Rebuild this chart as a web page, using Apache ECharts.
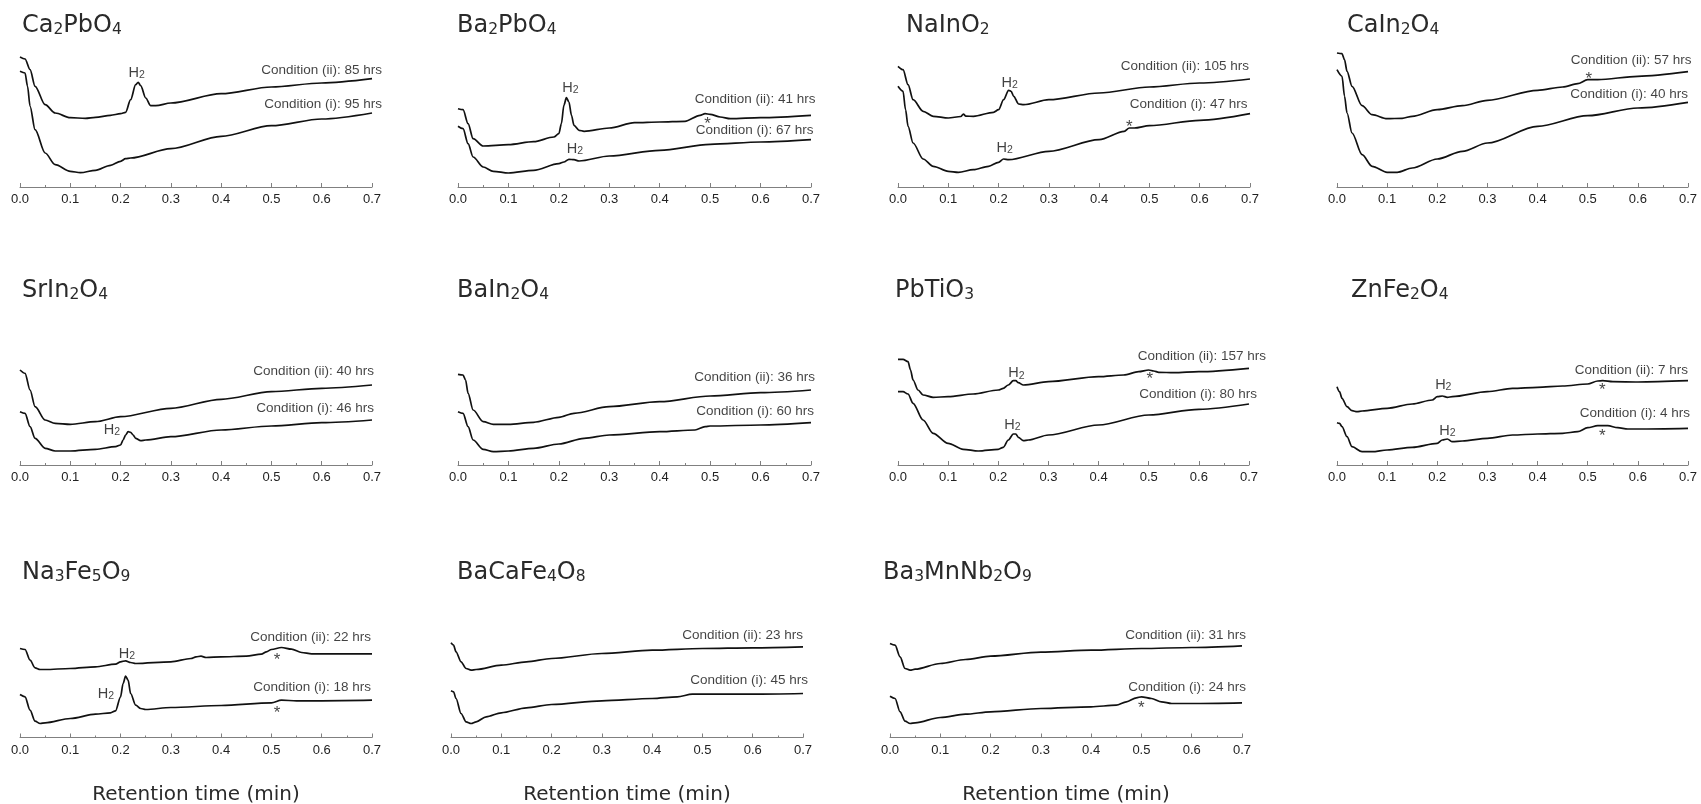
<!DOCTYPE html>
<html><head><meta charset="utf-8">
<script src="https://cdn.jsdelivr.net/npm/echarts@6/dist/echarts.min.js"></script>
<style>html,body{margin:0;padding:0;background:#fff}#c{width:1701px;height:804px}</style>
</head><body><div id="c"></div><script>
// ---------- DATA ----------
const xTickLabels = ['0.0','0.1','0.2','0.3','0.4','0.5','0.6','0.7'];
const compounds = ['Ca2PbO4','Ba2PbO4','NaInO2','CaIn2O4','SrIn2O4','BaIn2O4','PbTiO3','ZnFe2O4','Na3Fe5O9','BaCaFe4O8','Ba3MnNb2O9'];
const hoursII = [85,41,105,57,40,36,157,7,22,23,31];
const hoursI  = [95,67,47,40,46,60,80,4,18,45,24];

// [retention time (min), detector signal (arb.)]
const ca2pbo4_ii = [[0,130],[0.01,128],[0.02,117.3],[0.03,100.7],[0.05,82.3],[0.07,74],[0.1,69.3],[0.13,68.7],[0.15,69.7],[0.18,71.7],[0.2,73.3],[0.21,74.7],[0.22,87.3],[0.23,102.3],[0.235,104.7],[0.24,101.3],[0.25,89],[0.26,81.3],[0.27,81.3],[0.3,84],[0.4,93.3],[0.5,100],[0.6,104],[0.7,108.3]];
const ca2pbo4_i  = [[0,115.7],[0.01,114],[0.015,100.7],[0.02,80.7],[0.03,57.3],[0.05,34],[0.07,22.3],[0.1,15.7],[0.12,14.3],[0.15,16.7],[0.18,21.7],[0.2,25.7],[0.21,28.3],[0.22,29],[0.3,38.3],[0.4,50.7],[0.5,61.3],[0.6,68],[0.7,74]];
const ba2pbo4_ii = [[0,78.3],[0.01,77.3],[0.02,63.3],[0.03,48.3],[0.05,41],[0.1,42.3],[0.15,45.3],[0.19,50],[0.2,53.3],[0.205,63.3],[0.21,81.7],[0.215,89.3],[0.22,85],[0.225,71.7],[0.23,61.7],[0.24,56.7],[0.25,55.7],[0.3,59],[0.35,64.3],[0.4,65],[0.45,65.7],[0.48,71.7],[0.49,73.3],[0.5,72.7],[0.52,70],[0.54,68.3],[0.6,69.3],[0.7,71.7]];
const ba2pbo4_i  = [[0,60.7],[0.01,58.3],[0.02,43.3],[0.03,30],[0.05,20],[0.07,15.7],[0.1,14],[0.15,16.7],[0.2,23.3],[0.21,25],[0.22,27.7],[0.23,27.3],[0.24,26],[0.3,31],[0.4,36.7],[0.5,42.7],[0.6,45],[0.7,47.3]];
const nainO2_ii  = [[0,120.7],[0.01,117.3],[0.02,102.3],[0.03,87.3],[0.05,75.7],[0.07,70.7],[0.1,69],[0.125,70.5],[0.13,73],[0.135,70.8],[0.15,70.7],[0.19,74.7],[0.2,77.3],[0.21,87.3],[0.22,96.7],[0.225,95.7],[0.23,90.7],[0.24,83],[0.25,82.3],[0.3,87.3],[0.4,94],[0.5,100],[0.6,104],[0.7,108]];
const nainO2_i   = [[0,100.7],[0.01,95.7],[0.015,77.3],[0.02,60.7],[0.03,44],[0.05,28],[0.07,20.7],[0.1,15.7],[0.12,14.7],[0.15,17.3],[0.18,20.7],[0.2,24.7],[0.21,28],[0.22,27.3],[0.3,35.7],[0.4,47.3],[0.45,55.7],[0.46,59],[0.47,59],[0.5,61.3],[0.6,66.7],[0.7,73.3]];
const cain2o4_ii = [[0,134],[0.01,133.3],[0.015,127.3],[0.02,115.7],[0.03,100.7],[0.05,81.3],[0.07,72.3],[0.1,68.3],[0.13,68.7],[0.15,70.7],[0.2,77.3],[0.25,81.3],[0.3,86.7],[0.4,96.7],[0.45,100],[0.48,103.3],[0.5,107.3],[0.52,107.3],[0.6,110.7],[0.7,115.3]];
const cain2o4_i  = [[0,117.3],[0.01,110.7],[0.015,90.7],[0.02,74],[0.03,54],[0.05,32.3],[0.07,20.7],[0.1,14.7],[0.12,14.7],[0.15,19],[0.2,28],[0.25,35.7],[0.3,44],[0.4,60.7],[0.5,71.3],[0.6,79],[0.7,84.7]];
const srin2o4_ii = [[0,95],[0.01,91.7],[0.02,75],[0.03,58.3],[0.05,45],[0.07,41.7],[0.1,40.7],[0.15,43.3],[0.2,48.3],[0.3,56.7],[0.4,65.7],[0.5,73.3],[0.6,76.7],[0.7,80]];
const srin2o4_i  = [[0,53.3],[0.01,51.7],[0.02,38.3],[0.03,26.7],[0.05,16.7],[0.07,14],[0.1,14],[0.15,15.7],[0.19,18.3],[0.2,20],[0.205,25],[0.21,30],[0.215,33.3],[0.22,32.7],[0.225,30],[0.23,26.7],[0.24,24.3],[0.25,25],[0.3,28.3],[0.4,35],[0.5,39],[0.6,42.3],[0.7,45]];
const bain2o4_ii = [[0,90.7],[0.01,90],[0.015,85],[0.02,71.7],[0.03,55],[0.05,43.3],[0.07,40.7],[0.1,40.7],[0.15,42.7],[0.2,47.7],[0.23,51.7],[0.3,58.3],[0.4,63.3],[0.5,69],[0.6,72.3],[0.7,75]];
const bain2o4_i  = [[0,53.3],[0.01,51.7],[0.02,38.3],[0.03,25],[0.05,15.7],[0.07,13.3],[0.1,14],[0.15,16.7],[0.2,21],[0.25,26.7],[0.3,30],[0.4,33.3],[0.47,35],[0.49,38.3],[0.5,39],[0.6,40],[0.7,42.3]];
const pbtio3_ii  = [[0,105.7],[0.01,105.7],[0.02,103.3],[0.025,95],[0.03,85],[0.04,75],[0.05,70],[0.07,67.7],[0.1,68.3],[0.15,71],[0.2,75],[0.21,76.7],[0.22,80],[0.23,84.3],[0.235,84.3],[0.24,82.3],[0.25,80],[0.3,83.3],[0.4,88.3],[0.45,90],[0.48,93.3],[0.5,95],[0.51,94],[0.52,92.7],[0.55,92.3],[0.6,93.3],[0.7,96.7]];
const pbtio3_i   = [[0,73.3],[0.01,73.3],[0.02,71],[0.03,61.7],[0.05,45],[0.07,31.7],[0.1,21.7],[0.13,15.7],[0.16,14],[0.2,15.7],[0.21,17.7],[0.22,25],[0.23,31],[0.235,31],[0.24,27.7],[0.25,24.3],[0.26,25],[0.3,30],[0.4,40],[0.5,50],[0.6,55.7],[0.7,61]];
const znfe2o4_ii = [[0,78.3],[0.005,73.3],[0.01,66.7],[0.02,58.3],[0.03,54.3],[0.04,53.3],[0.05,54],[0.1,56.7],[0.15,61],[0.19,65],[0.2,68.3],[0.21,69],[0.22,67.7],[0.23,68.3],[0.3,73.3],[0.35,76.7],[0.4,77.7],[0.45,79],[0.5,81],[0.52,84],[0.53,84.3],[0.55,83.3],[0.6,83],[0.7,84.3]];
const znfe2o4_i  = [[0,42.3],[0.005,41.7],[0.01,38.3],[0.02,28.3],[0.03,18.3],[0.05,13.3],[0.07,13.3],[0.1,15],[0.15,17.7],[0.2,21.7],[0.21,25],[0.22,26],[0.23,23.3],[0.25,24],[0.3,26.7],[0.35,30],[0.4,31],[0.45,31.7],[0.48,33.3],[0.5,37.3],[0.52,39.3],[0.54,39.3],[0.56,37.3],[0.58,36],[0.6,36],[0.7,36.7]];
const na3fe5o9_ii = [[0,89],[0.01,88],[0.02,77.3],[0.03,69.7],[0.04,68],[0.05,68],[0.1,69],[0.15,70.7],[0.19,73.3],[0.2,75.7],[0.21,76.7],[0.22,75],[0.23,74],[0.3,75.7],[0.34,79],[0.35,80.7],[0.36,81.3],[0.37,80],[0.4,80.7],[0.45,81.3],[0.48,83.3],[0.49,85.7],[0.5,88],[0.52,90],[0.54,88.3],[0.56,85],[0.58,83.7],[0.6,83.7],[0.7,83.7]];
const na3fe5o9_i  = [[0,43],[0.01,40.7],[0.02,27.3],[0.03,16.3],[0.04,14],[0.05,14.7],[0.1,19],[0.15,23.3],[0.18,24.7],[0.19,26.7],[0.2,40.7],[0.205,54],[0.21,61.3],[0.215,57.3],[0.22,44],[0.23,32.3],[0.24,29],[0.25,28],[0.3,30],[0.4,32],[0.5,34.7],[0.52,37.3],[0.55,36.7],[0.6,36.7],[0.7,37.3]];
const bacafe4o8_ii = [[0,94.7],[0.005,92.3],[0.01,85.7],[0.02,75.7],[0.03,69],[0.04,67.3],[0.05,68],[0.1,72.3],[0.15,75.7],[0.2,79],[0.3,84],[0.4,87.3],[0.5,89],[0.6,89.7],[0.7,90.7]];
const bacafe4o8_i  = [[0,46.7],[0.005,45.7],[0.01,39],[0.02,24],[0.03,15.7],[0.04,14],[0.05,15.7],[0.07,20.7],[0.1,24.7],[0.15,29.7],[0.2,33],[0.3,36.7],[0.4,39],[0.45,40.7],[0.48,43.3],[0.5,43.3],[0.6,43.3],[0.7,44]];
const ba3mnnb2o9_ii = [[0,94],[0.01,92.3],[0.02,80.7],[0.03,69],[0.04,67.3],[0.05,68.3],[0.1,74],[0.15,78],[0.2,81.3],[0.3,85.3],[0.4,87.3],[0.5,89],[0.6,90],[0.7,91.7]];
const ba3mnnb2o9_i  = [[0,41.3],[0.01,39],[0.02,25.7],[0.03,16.3],[0.04,14],[0.05,14.7],[0.1,20],[0.15,23.3],[0.2,25.7],[0.3,29],[0.4,30.7],[0.45,32.3],[0.47,35.7],[0.49,39.7],[0.5,40.7],[0.52,39],[0.54,35.7],[0.56,34],[0.6,34],[0.7,34.7]];

const curvesII = [ca2pbo4_ii, ba2pbo4_ii, nainO2_ii, cain2o4_ii, srin2o4_ii, bain2o4_ii, pbtio3_ii, znfe2o4_ii, na3fe5o9_ii, bacafe4o8_ii, ba3mnnb2o9_ii];
const curvesI  = [ca2pbo4_i, ba2pbo4_i, nainO2_i, cain2o4_i, srin2o4_i, bain2o4_i, pbtio3_i, znfe2o4_i, na3fe5o9_i, bacafe4o8_i, ba3mnnb2o9_i];

// peak annotations: [retention time, signal, mark]
const peakMarks = [
  [[0.232,114,'H2']],
  [[0.223,99.3,'H2'],[0.232,38.3,'H2'],[0.495,66.7,'*']],
  [[0.222,104,'H2'],[0.212,39,'H2'],[0.46,64,'*']],
  [[0.502,112,'*']],
  [[0.183,35,'H2']],
  [],
  [[0.236,91.7,'H2'],[0.228,40,'H2'],[0.502,90,'*']],
  [[0.212,80,'H2'],[0.22,34.3,'H2'],[0.529,78.3,'*'],[0.529,32.7,'*']],
  [[0.2125,84,'H2'],[0.171,44,'H2'],[0.511,80.7,'*'],[0.511,28,'*']],
  [],
  [[0.5,33.3,'*']]
];
// condition label anchors (right end): [time, signal] for (ii) and (i)
const condPosII = [[0.72,116.7],[0.709,87.3],[0.698,120.7],[0.707,126.3],[0.704,94],[0.708,87.7],[0.734,109],[0.70,95],[0.698,100],[0.70,102.3],[0.708,102.3]];
const condPosI  = [[0.72,82.3],[0.705,56.7],[0.695,82.3],[0.70,93],[0.704,56.7],[0.706,53.3],[0.716,71],[0.704,51.7],[0.698,50],[0.71,57.3],[0.708,50.7]];

// ---------- LAYOUT ----------
const panelLeft  = [20,458,898,1337, 20,458,898,1337, 20,451,890];
const panelRight = [372,811,1250,1688, 372,811,1249,1688, 372,803,1242];
const rowAxisY = [187, 465, 737.5];
const PH = 140;
const titleLeft = [22,457,906,1347, 22,457,895,1351, 22,457,883];
const titleCenterY = [24.5, 289, 571];

const LAB_FONT = 'Liberation Sans, Arial, sans-serif';
const TITLE_FONT = 'DejaVu Sans, sans-serif';
const INK = '#111';

function titleRich(s){
  return s.replace(/([A-Za-z]+)|(\d+)/g, (m,a,d)=> a ? '{a|'+a+'}' : '{b|'+d+'}');
}

const grid=[], xAxis=[], yAxis=[], series=[], title=[], graphic=[];
compounds.forEach((name,i)=>{
  const row = Math.floor(i/4);
  const ay = rowAxisY[row];
  grid.push({left: panelLeft[i], top: ay-PH, width: panelRight[i]-panelLeft[i], height: PH});
  xAxis.push({
    gridIndex:i, type:'value', min:0, max:0.7, interval:0.1,
    axisLine:{lineStyle:{color:'#808080',width:1}},
    axisTick:{inside:true,length:4,lineStyle:{color:'#808080'}},
    minorTick:{show:true,splitNumber:2,length:2,lineStyle:{color:'#808080'}},
    splitLine:{show:false},
    axisLabel:{color:'#222',fontSize:13,fontFamily:LAB_FONT,margin:6,
      formatter:(v)=>xTickLabels[Math.round(v*10)]}
  });
  yAxis.push({gridIndex:i,type:'value',min:0,max:PH,show:false});
  [curvesII[i], curvesI[i]].forEach(d=>{
    series.push({type:'line',xAxisIndex:i,yAxisIndex:i,data:d,showSymbol:false,symbol:'none',
      smooth:0.3,smoothMonotone:'x',lineStyle:{color:INK,width:1.7},silent:true});
  });
  const condData = [
    {value:[condPosII[i][0],condPosII[i][1]], label:{formatter:'Condition (ii): '+hoursII[i]+' hrs'}},
    {value:[condPosI[i][0],condPosI[i][1]], label:{formatter:'Condition (i): '+hoursI[i]+' hrs'}}
  ];
  series.push({type:'scatter',xAxisIndex:i,yAxisIndex:i,symbolSize:0.1,clip:false,itemStyle:{color:'rgba(0,0,0,0)'},silent:true,
    data:condData,
    label:{show:true,position:'left',distance:0,color:'#111',fontSize:13.5,fontFamily:LAB_FONT}});
  const pk = peakMarks[i].map(p=>({value:[p[0],p[1]],
    label: p[2]==='H2' ? {formatter:'{h|H}{s|2}'} : {formatter:'*',fontSize:17,offset:[0,4]}}));
  if (pk.length) series.push({type:'scatter',xAxisIndex:i,yAxisIndex:i,symbolSize:0.1,clip:false,itemStyle:{color:'rgba(0,0,0,0)'},silent:true,
    data:pk,
    label:{show:true,position:'inside',color:'#111',fontSize:14,fontFamily:LAB_FONT,
      rich:{h:{fontSize:14.5,lineHeight:16,fontFamily:LAB_FONT,color:'#111'},
            s:{fontSize:10.5,lineHeight:10,verticalAlign:'bottom',fontFamily:LAB_FONT,color:'#111'}}}});
  title.push({text:titleRich(name),left:titleLeft[i],top:titleCenterY[row]-14.5,padding:0,
    textStyle:{fontWeight:'normal',rich:{a:{fontSize:24,lineHeight:28,fontWeight:'normal',fontFamily:TITLE_FONT,color:'#2a2a2a',verticalAlign:'bottom'},
                     b:{fontSize:15.5,lineHeight:20,fontWeight:'normal',fontFamily:TITLE_FONT,color:'#2a2a2a',verticalAlign:'bottom'}}}});
});
[8,9,10].forEach(i=>{
  graphic.push({type:'text',x:(panelLeft[i]+panelRight[i])/2,y:795,silent:true,
    style:{text:'Retention time (min)',font:'20px DejaVu Sans, sans-serif',fill:'#2a2a2a',align:'center',verticalAlign:'middle'}});
});

const chart = echarts.init(document.getElementById('c'),null,{renderer:'canvas'});
chart.setOption({animation:false,backgroundColor:'#fff',title,grid,xAxis,yAxis,series,graphic});
</script></body></html>
